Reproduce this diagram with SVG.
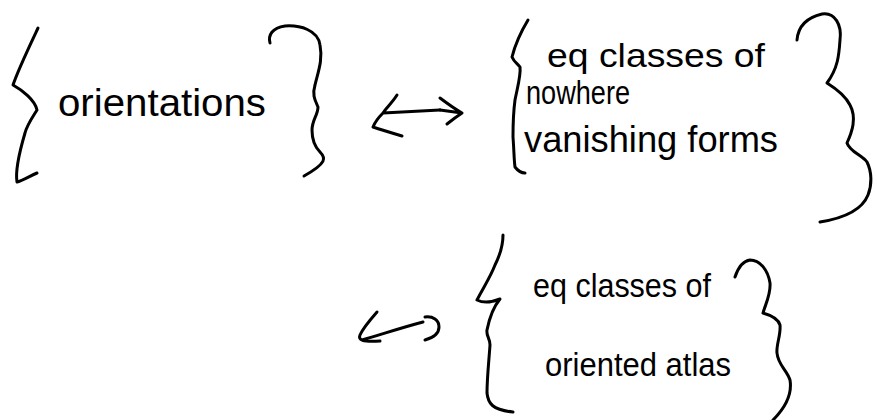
<svg xmlns="http://www.w3.org/2000/svg" width="877" height="420" viewBox="0 0 877 420">
<style>
.s{fill:none;stroke:#000;stroke-width:3;stroke-linecap:round;stroke-linejoin:round}
.t{font-family:"Liberation Sans","DejaVu Sans",sans-serif;fill:#000}
</style>
<rect width="877" height="420" fill="#fff"/>
<g id="orientations">
<path class="s" d="M38,28 C30,45 18,70 13,85 C22,90 35,100 37,110 C32,118 27,125 25,133 C20,150 15,170 17,182 C22,181 30,176 37,173"/>
<text class="t" x="58" y="116" font-size="38" textLength="208" lengthAdjust="spacingAndGlyphs">orientations</text>
<path class="s" d="M270,43 C268,35 272,28 285,26 C300,25 318,30 320,45 C323,60 318,72 315,85 C312,95 315,100 318,107 C318,115 312,120 312,130 C312,140 315,147 320,152 C326,158 327,163 304,176"/>
</g>
<g id="forms">
<path class="s" d="M528,20 C522,30 515,45 512,57 C514,62 518,64 520,67 C521,75 518,85 515,100 C513,115 513,125 513,137 C514,150 514,160 515,167 C518,171 521,173 525,173"/>
<text class="t" x="547" y="67" font-size="34" textLength="218" lengthAdjust="spacingAndGlyphs">eq classes of</text>
<text class="t" x="526" y="104" font-size="34" textLength="104" lengthAdjust="spacingAndGlyphs">nowhere</text>
<text class="t" x="524" y="152" font-size="36" textLength="254" lengthAdjust="spacingAndGlyphs">vanishing forms</text>
<path class="s" d="M797,40 C798,28 805,18 822,14 C835,12 842,25 840,40 C839,55 838,68 827,83 C835,88 845,95 850,105 C857,118 852,132 847,143 C850,152 862,155 867,162 C872,172 872,185 868,195 C862,210 845,218 820,222"/>
</g>
<g id="atlas">
<path class="s" d="M503,235 C503,245 500,255 495,265 C490,278 483,288 477,300 C483,303 490,303 500,299 C495,305 490,315 487,330 C486,336 490,338 490,345 C489,360 487,378 487,393 C488,403 492,410 513,412"/>
<text class="t" x="533" y="297" font-size="34" textLength="178" lengthAdjust="spacingAndGlyphs">eq classes of</text>
<text class="t" x="545" y="376" font-size="34" textLength="186" lengthAdjust="spacingAndGlyphs">oriented atlas</text>
<path class="s" d="M735,277 C738,268 742,261 750,260 C760,260 768,270 770,283 C771,295 765,305 763,313 C770,315 778,318 780,325 C781,335 776,345 777,353 C778,365 787,370 790,380 C792,392 788,405 773,420"/>
</g>
<g id="connectors">
<path class="s" d="M397,95 C392,103 386,108 383,113 L440,110 M383,113 C378,118 375,122 373,127 C382,130 392,133 402,136"/>
<path class="s" d="M440,98 C448,104 455,109 462,113 C456,117 452,120 447,124 M440,110 L462,113"/>
<path class="s" d="M377,312 C370,320 363,328 360,335 C358,340 362,342 380,341 M362,340 C380,335 400,328 423,322 M425,317 C433,316 439,320 439,327 C439,334 432,338 425,340"/>
</g>
</svg>
